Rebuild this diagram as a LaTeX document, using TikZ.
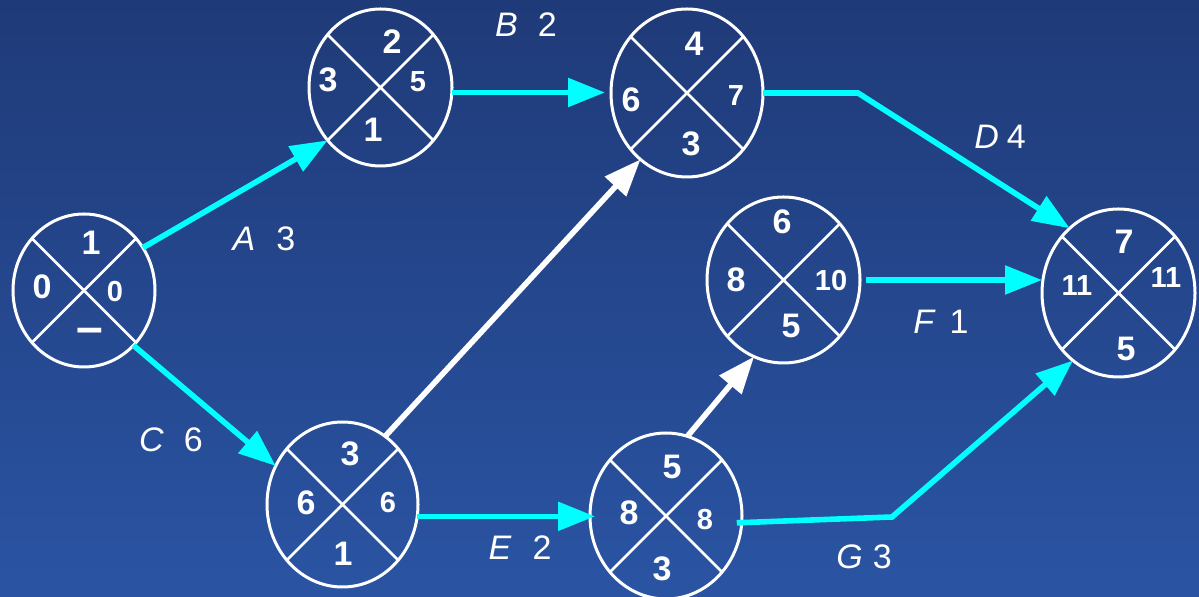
\documentclass[tikz,border=0pt]{standalone}
\usepackage{fontspec}
\setmainfont{Liberation Sans}
\usetikzlibrary{shapes.geometric,arrows.meta}
\definecolor{bgtop}{RGB}{31,58,120}
\definecolor{bgbot}{RGB}{42,84,163}
\definecolor{flow}{RGB}{0,255,255}
\tikzset{
  evt/.style={ellipse, draw=white, line width=1.5pt, inner sep=0pt, outer sep=0pt},
  xline/.style={draw=white, line width=1.3pt},
  numbig/.style={text=white, inner sep=0pt, font=\fontsize{17}{17}\selectfont\bfseries},
  numsmall/.style={text=white, inner sep=0pt, font=\fontsize{14.5}{14.5}\selectfont\bfseries},
  actlabel/.style={text=white, inner sep=0pt, font=\fontsize{17}{17}\selectfont},
  crit/.style={draw=flow, line width=2.8pt, -{Triangle[length=18.5pt,width=14pt]}},
  slackarrow/.style={draw=white, line width=2.8pt, -{Triangle[length=18.5pt,width=14pt]}},
}
% event circle: name, centre, half width (pt), half height (pt)
\newcommand\eventcircle[4]{%
  \node[evt, minimum width=#3pt, minimum height=#4pt] (#1) at (#2) {};
  \draw[xline] (#1.45) -- (#1.225) (#1.135) -- (#1.315);}
\begin{document}
\begin{tikzpicture}[x=0.5pt,y=-0.5pt]
  \useasboundingbox (0,0) rectangle (1199,597);
  \shade[top color=bgtop, bottom color=bgbot] (0,0) rectangle (1199,597);

  % events
  \eventcircle{n0}{84,290.5}{71}{76.5}
  \eventcircle{nA}{380.5,87.5}{71.5}{78.5}
  \eventcircle{nB}{687,93}{76}{84}
  \eventcircle{nC}{342.5,504.5}{75.5}{82.5}
  \eventcircle{nE}{666,516}{76}{83}
  \eventcircle{nF}{783.5,280}{76.5}{83}
  \eventcircle{nEnd}{1118.5,293}{76.5}{84}

  % quadrant values
  \node[numbig]   (n0t) at (91,243) {1};
  \node[numbig]   (n0l) at (42,287) {0};
  \node[numsmall] (n0r) at (115,292) {0};
  \node[numbig, font=\fontsize{24}{24}\selectfont\bfseries] (n0b) at (90,336) {–};

  \node[numbig]   (nAt) at (392,42) {2};
  \node[numbig]   (nAl) at (328,80) {3};
  \node[numsmall] (nAr) at (418,82) {5};
  \node[numbig]   (nAb) at (373,130) {1};

  \node[numbig]   (nBt) at (694,44) {4};
  \node[numbig]   (nBl) at (631,100) {6};
  \node[numsmall] (nBr) at (736,96) {7};
  \node[numbig]   (nBb) at (691,144) {3};

  \node[numbig]   (nCt) at (350,454) {3};
  \node[numbig]   (nCl) at (306,503) {6};
  \node[numsmall] (nCr) at (388,503) {6};
  \node[numbig]   (nCb) at (343,554) {1};

  \node[numbig]   (nEt) at (672,467) {5};
  \node[numbig]   (nEl) at (629,513) {8};
  \node[numsmall] (nEr) at (705,520) {8};
  \node[numbig]   (nEb) at (662,569) {3};

  \node[numbig]   (nFt) at (782,222) {6};
  \node[numbig]   (nFl) at (736,280) {8};
  \node[numsmall] (nFr) at (831,281) {10};
  \node[numbig]   (nFb) at (791,326) {5};

  \node[numbig]   (nEndt) at (1124,242) {7};
  \node[numsmall] (nEndl) at (1077,286) {11};
  \node[numsmall] (nEndr) at (1166,278) {11};
  \node[numbig]   (nEndb) at (1126,349) {5};

  % bend points
  \coordinate (bD) at (858,93);
  \coordinate (bG) at (892,517);

  % activities
  \draw[crit] (n0.36) -- (nA.225);
  \draw[crit] (n0.312) -- (nC.150);
  \draw[crit, shorten >=3pt] (nA.-4) -- (nA.-4 -| nB.west);
  \draw[crit] (nB.east) -- (bD) -- (nEnd.127);
  \draw[slackarrow] (nC.58.6) -- (nB.235);
  \draw[crit, shorten >=-2.5pt] (nC.-9.5) -- (nC.-9.5 -| nE.west);
  \draw[slackarrow] (nE.75.3) -- (nF.249);
  \draw[crit, shorten <=3pt] (nF.east) -- (nF.east -| nEnd.west);
  \draw[crit, shorten <=-2.5pt] (nE.-5) -- (bG) -- (nEnd.236);

  % activity labels
  \node[actlabel] (lA) at (264,239) {\textit{A}\hspace{10.5pt}3};
  \node[actlabel] (lB) at (526,25)  {\textit{B}\hspace{10pt}2};
  \node[actlabel] (lC) at (171,440) {\textit{C}\hspace{10pt}6};
  \node[actlabel] (lD) at (1000,137) {\textit{D}\hspace{4pt}4};
  \node[actlabel] (lE) at (520,548) {\textit{E}\hspace{10.5pt}2};
  \node[actlabel] (lF) at (941,322) {\textit{F}\hspace{7pt}1};
  \node[actlabel] (lG) at (864,557) {\textit{G}\hspace{5pt}3};
\end{tikzpicture}
\end{document}
